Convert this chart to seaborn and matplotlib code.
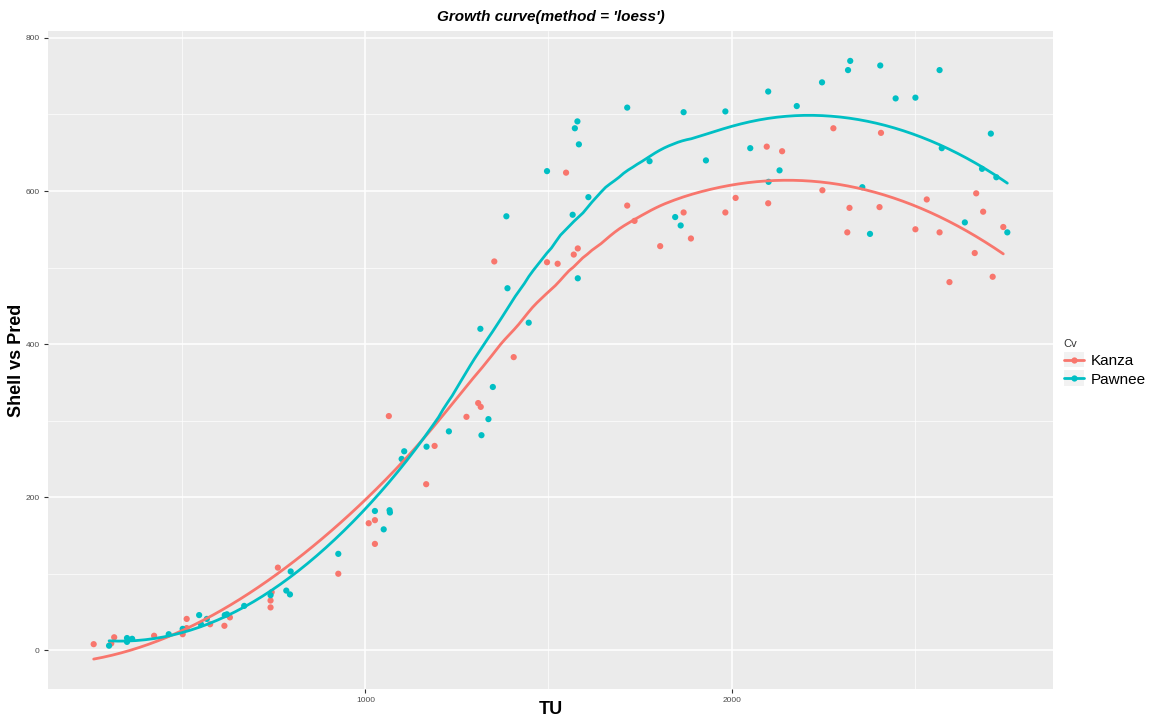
import numpy as np
import pandas as pd
import matplotlib
matplotlib.use("Agg")
import matplotlib.pyplot as plt
from matplotlib.lines import Line2D
from matplotlib.patches import Rectangle
from matplotlib.legend_handler import HandlerLine2D
from matplotlib.ticker import MultipleLocator
import seaborn as sns

# ---- data ----
kanza_tu = [258, 306, 314, 423, 501, 512, 512, 576, 615, 630, 741, 741, 744, 761, 926,
            1009, 1026, 1026, 1064, 1166, 1189, 1276, 1308, 1315, 1352, 1405, 1496, 1525,
            1548, 1569, 1580, 1715, 1735, 1805, 1869, 1889, 1983, 2011, 2096, 2100, 2138,
            2248, 2278, 2316, 2322, 2404, 2408, 2502, 2533, 2568, 2595, 2664, 2668, 2687,
            2713, 2742]
kanza_val = [8, 9, 17, 19, 21, 41, 29, 34, 32, 43, 65, 56, 76, 108, 100,
             166, 170, 139, 306, 217, 267, 305, 323, 318, 508, 383, 507, 505,
             624, 517, 525, 581, 561, 528, 572, 538, 572, 591, 658, 584, 652,
             601, 682, 546, 578, 579, 676, 550, 589, 546, 481, 519, 597, 573,
             488, 553]

pawnee_tu = [300, 349, 349, 363, 463, 501, 546, 551, 567, 616, 622, 669, 741, 784, 794,
             796, 926, 1026, 1050, 1066, 1067, 1099, 1106, 1167, 1228, 1314, 1317, 1336,
             1348, 1385, 1388, 1446, 1496, 1566, 1572, 1579, 1580, 1583, 1609, 1715, 1776,
             1846, 1861, 1869, 1930, 1983, 2051, 2100, 2101, 2131, 2178, 2247, 2318, 2324,
             2357, 2378, 2406, 2448, 2502, 2568, 2574, 2637, 2684, 2708, 2723, 2753]
pawnee_val = [6, 16, 11, 15, 21, 28, 46, 34, 41, 46, 47, 58, 72, 78, 73,
              103, 126, 182, 158, 183, 180, 250, 260, 266, 286, 420, 281, 302,
              344, 567, 473, 428, 626, 569, 682, 691, 486, 661, 592, 709, 639,
              566, 555, 703, 640, 704, 656, 730, 612, 627, 711, 742, 758, 770,
              605, 544, 764, 721, 722, 758, 656, 559, 629, 675, 618, 546]

cultivars = ["Kanza", "Pawnee"]
palette = {"Kanza": "#F8766D", "Pawnee": "#00BFC4"}
x_ticks = [1000, 2000]
y_ticks = [0, 200, 400, 600, 800]

df = pd.DataFrame({
    "TU": kanza_tu + pawnee_tu,
    "Shell": kanza_val + pawnee_val,
    "Cv": ["Kanza"] * len(kanza_tu) + ["Pawnee"] * len(pawnee_tu),
})


def loess(x, y, xs, span=0.75):
    """Local quadratic regression with tricube weights (loess, degree 2)."""
    x = np.asarray(x, float)
    y = np.asarray(y, float)
    q = int(np.floor(len(x) * span))
    out = []
    for x0 in xs:
        d = np.abs(x - x0)
        h = np.sort(d)[q - 1]
        u = np.clip(d / h, 0, 1)
        w = (1 - u ** 3) ** 3
        coef = np.polyfit(x - x0, y, 2, w=np.sqrt(w))
        out.append(coef[2])
    return np.array(out)


smooth = []
for cv in cultivars:
    sub = df[df.Cv == cv]
    xs = np.linspace(sub.TU.min(), sub.TU.max(), 200)
    smooth.append(pd.DataFrame({"TU": xs, "Shell": loess(sub.TU.values, sub.Shell.values, xs),
                                "Cv": cv}))
smooth = pd.concat(smooth, ignore_index=True)

# ---- figure ----
sns.set_theme(style="darkgrid")
plt.rcParams["font.family"] = ["Liberation Sans", "DejaVu Sans"]
plt.rcParams["text.color"] = "black"
plt.rcParams["axes.labelcolor"] = "black"

fig = plt.figure(figsize=(11.6, 7.26), dpi=100)
ax = fig.add_axes([48 / 1160, 1 - 689 / 726, (1053 - 48) / 1160, (689 - 31) / 726])
ax.set_facecolor("#EBEBEB")

sns.scatterplot(data=df, x="TU", y="Shell", hue="Cv", palette=palette, s=20,
                edgecolor="none", linewidth=0, ax=ax, legend=False, zorder=3)
sns.lineplot(data=smooth, x="TU", y="Shell", hue="Cv", palette=palette, linewidth=2.0,
             ax=ax, legend=False, zorder=4, sort=False, estimator=None)

allx = np.concatenate([df.TU.values, smooth.TU.values])
ally = np.concatenate([df.Shell.values, smooth.Shell.values])
rx = allx.max() - allx.min()
ry = ally.max() - ally.min()
ax.set_xlim(allx.min() - 0.05 * rx, allx.max() + 0.05 * rx)
ax.set_ylim(ally.min() - 0.05 * ry, ally.max() + 0.05 * ry)

ax.set_xticks(x_ticks)
ax.set_xticklabels([str(t) for t in x_ticks])
ax.set_yticks(y_ticks)
ax.set_yticklabels([str(t) for t in y_ticks])
ax.xaxis.set_minor_locator(MultipleLocator(500))
ax.yaxis.set_minor_locator(MultipleLocator(100))
ax.grid(which="major", color="white", linewidth=1.1)
ax.grid(which="minor", color="white", linewidth=0.5)
ax.set_axisbelow(True)
for sp in ax.spines.values():
    sp.set_visible(False)
ax.tick_params(axis="both", which="major", labelsize=6, labelcolor="#4D4D4D",
               color="#333333", length=3, width=0.8, bottom=True, left=True, pad=3)
ax.tick_params(axis="both", which="minor", length=0)

ax.set_xlabel("TU", fontsize=13, fontweight="bold", color="black")
ax.set_ylabel("Shell vs Pred", fontsize=13, fontweight="bold", color="black")
ax.xaxis.set_label_coords(0.5, -(710 - 689) / 658, transform=ax.transAxes)
ax.yaxis.set_label_coords(-(48 - 17) / 1005, 0.5, transform=ax.transAxes)
ax.xaxis.label.set_va("center")
ax.yaxis.label.set_va("center")
ax.set_title("Growth curve(method = 'loess')", fontsize=11, fontweight="bold",
             fontstyle="italic", pad=7, color="black")


class KeyHandler(HandlerLine2D):
    """Legend key drawn like ggplot: grey95 square behind the line+point."""
    def create_artists(self, legend, orig_handle, xdescent, ydescent, width, height,
                       fontsize, trans):
        pad = 0.16 * fontsize
        rect = Rectangle((-xdescent, -ydescent - pad), width, height + 2 * pad,
                         facecolor="#F2F2F2", edgecolor="none", transform=trans)
        arts = super().create_artists(legend, orig_handle, xdescent, ydescent, width,
                                      height, fontsize, trans)
        return [rect] + list(arts)


handles = [Line2D([0], [0], color=palette[c], lw=2.0, marker="o", markersize=4.5,
                  markeredgewidth=0) for c in cultivars]
leg = fig.legend(handles, cultivars, title="Cv", loc="center left",
                 bbox_to_anchor=(1050 / 1160, 0.5), frameon=False,
                 fontsize=11, title_fontsize=8, handlelength=1.3,
                 handletextpad=0.45, labelspacing=0.3,
                 handler_map={Line2D: KeyHandler()})
leg._legend_box.align = "left"
for t in leg.get_texts():
    t.set_color("black")
leg.get_title().set_color("#333333")

fig.savefig("out.png", dpi=100, facecolor="white")
